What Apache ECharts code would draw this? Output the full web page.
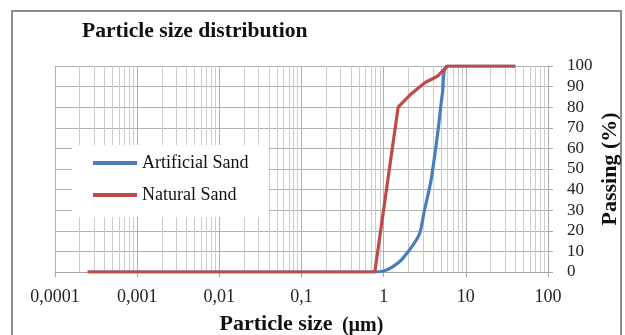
<!DOCTYPE html>
<html>
<head>
<meta charset="utf-8">
<script src="https://cdn.jsdelivr.net/npm/echarts@6/dist/echarts.min.js"></script>
<style>
  html, body { margin: 0; padding: 0; background: #fff; }
  #chart { width: 625px; height: 335px; }
</style>
</head>
<body>
<div id="chart"></div>
<script>
// Particle size (µm) vs cumulative passing (%)
const seriesNames = ['Artificial Sand', 'Natural Sand'];
const artificialSize = [0.00025, 0.78, 1.0, 1.28, 1.7, 2.7, 3.1, 3.75, 4.5, 5.2, 6.0, 40];
const artificialPassing = [0, 0, 0.5, 2.5, 6.5, 18, 29, 44, 66, 87, 100, 100];
const naturalSize = [0.00025, 0.78, 1.5, 2.1, 3.2, 4.5, 6.0, 40];
const naturalPassing = [0, 0, 80, 86, 92, 95, 100, 100];
const xTickLabels = { 0.0001: '0,0001', 0.001: '0,001', 0.01: '0,01', 0.1: '0,1', 1: '1', 10: '10', 100: '100' };

const serif = '"Liberation Serif", "DejaVu Serif", serif';

// minor log grid lines (2..9 within each decade), drawn through the axis scale
const minorLines = [];
for (let e = -4; e < 2; e++) {
  for (let m = 2; m <= 9; m++) {
    const x = m * Math.pow(10, e);
    minorLines.push({ coords: [[x, 0], [x, 100]] });
  }
}

const pairs = (xs, ys) => xs.map((x, i) => [x, ys[i]]);

const chart = echarts.init(document.getElementById('chart'), null, { renderer: 'canvas' });
chart.setOption({
  animation: false,
  backgroundColor: '#fff',
  title: {
    text: 'Particle size distribution',
    left: 77,
    top: 15,
    textStyle: { fontFamily: serif, fontWeight: 'bold', fontSize: 21.6, color: '#111' }
  },
  graphic: [{
    type: 'rect',
    shape: { x: 12, y: 11, width: 609, height: 340 },
    style: { fill: 'none', stroke: '#8c8c8c', lineWidth: 2 },
    silent: true
  }],
  legend: {
    data: seriesNames,
    orient: 'vertical',
    left: 72,
    top: 145,
    padding: [9, 20, 13, 21],
    backgroundColor: '#fff',
    itemWidth: 44,
    itemHeight: 4,
    itemGap: 14,
    icon: 'rect',
    textStyle: { fontFamily: serif, fontSize: 18, color: '#111' }
  },
  grid: { left: 55, right: 77, top: 66, bottom: 63, outerBoundsMode: 'none', containLabel: false },
  xAxis: {
    type: 'log',
    logBase: 10,
    min: 0.0001,
    max: 100,
    name: '{a|Particle size} {b|(µm)}',
    nameLocation: 'middle',
    nameGap: 40,
    nameTextStyle: {
      rich: {
        a: { fontFamily: serif, fontWeight: 'bold', fontSize: 22, color: '#111' },
        b: { fontFamily: serif, fontWeight: 'bold', fontSize: 20, color: '#111', padding: [4, 0, 0, 6] }
      }
    },
    axisLine: { show: true, lineStyle: { color: '#a6a6a6', width: 1 } },
    axisTick: { show: true, length: 5, lineStyle: { color: '#a6a6a6' } },
    axisLabel: {
      margin: 16,
      fontFamily: serif,
      fontSize: 18,
      color: '#222',
      formatter: v => {
        const k = Object.keys(xTickLabels).find(t => Math.abs(Math.log10(+t) - Math.log10(v)) < 1e-6);
        return k !== undefined ? xTickLabels[k] : '';
      }
    },
    splitLine: { show: true, lineStyle: { color: '#b0b0b0', width: 1 } }
  },
  yAxis: {
    type: 'value',
    position: 'right',
    min: 0,
    max: 100,
    interval: 10,
    name: 'Passing (%)',
    nameLocation: 'middle',
    nameRotate: 90,
    nameGap: 51,
    nameMoveOverlap: false,
    nameTextStyle: { fontFamily: serif, fontWeight: 'bold', fontSize: 22, color: '#111' },
    axisLine: { show: true, lineStyle: { color: '#a6a6a6' } },
    axisTick: { show: true, length: 5, lineStyle: { color: '#a6a6a6' } },
    axisLabel: { margin: 19, fontFamily: serif, fontSize: 17, color: '#222' },
    splitLine: { show: true, lineStyle: { color: '#b0b0b0', width: 1 } }
  },
  series: [
    {
      name: 'minor-grid',
      type: 'lines',
      coordinateSystem: 'cartesian2d',
      silent: true,
      z: 1,
      symbol: ['none', 'none'],
      lineStyle: { color: '#cdcdcd', width: 1, opacity: 1 },
      data: minorLines
    },
    {
      name: seriesNames[0],
      type: 'line',
      data: pairs(artificialSize, artificialPassing),
      showSymbol: false,
      symbol: 'none',
      smooth: 0.25,
      z: 3,
      lineStyle: { color: '#4a7ebb', width: 3.2 },
      itemStyle: { color: '#4a7ebb' }
    },
    {
      name: seriesNames[1],
      type: 'line',
      data: pairs(naturalSize, naturalPassing),
      showSymbol: false,
      symbol: 'none',
      z: 4,
      lineStyle: { color: '#be4b48', width: 3.2 },
      itemStyle: { color: '#be4b48' }
    }
  ]
});
</script>
</body>
</html>
